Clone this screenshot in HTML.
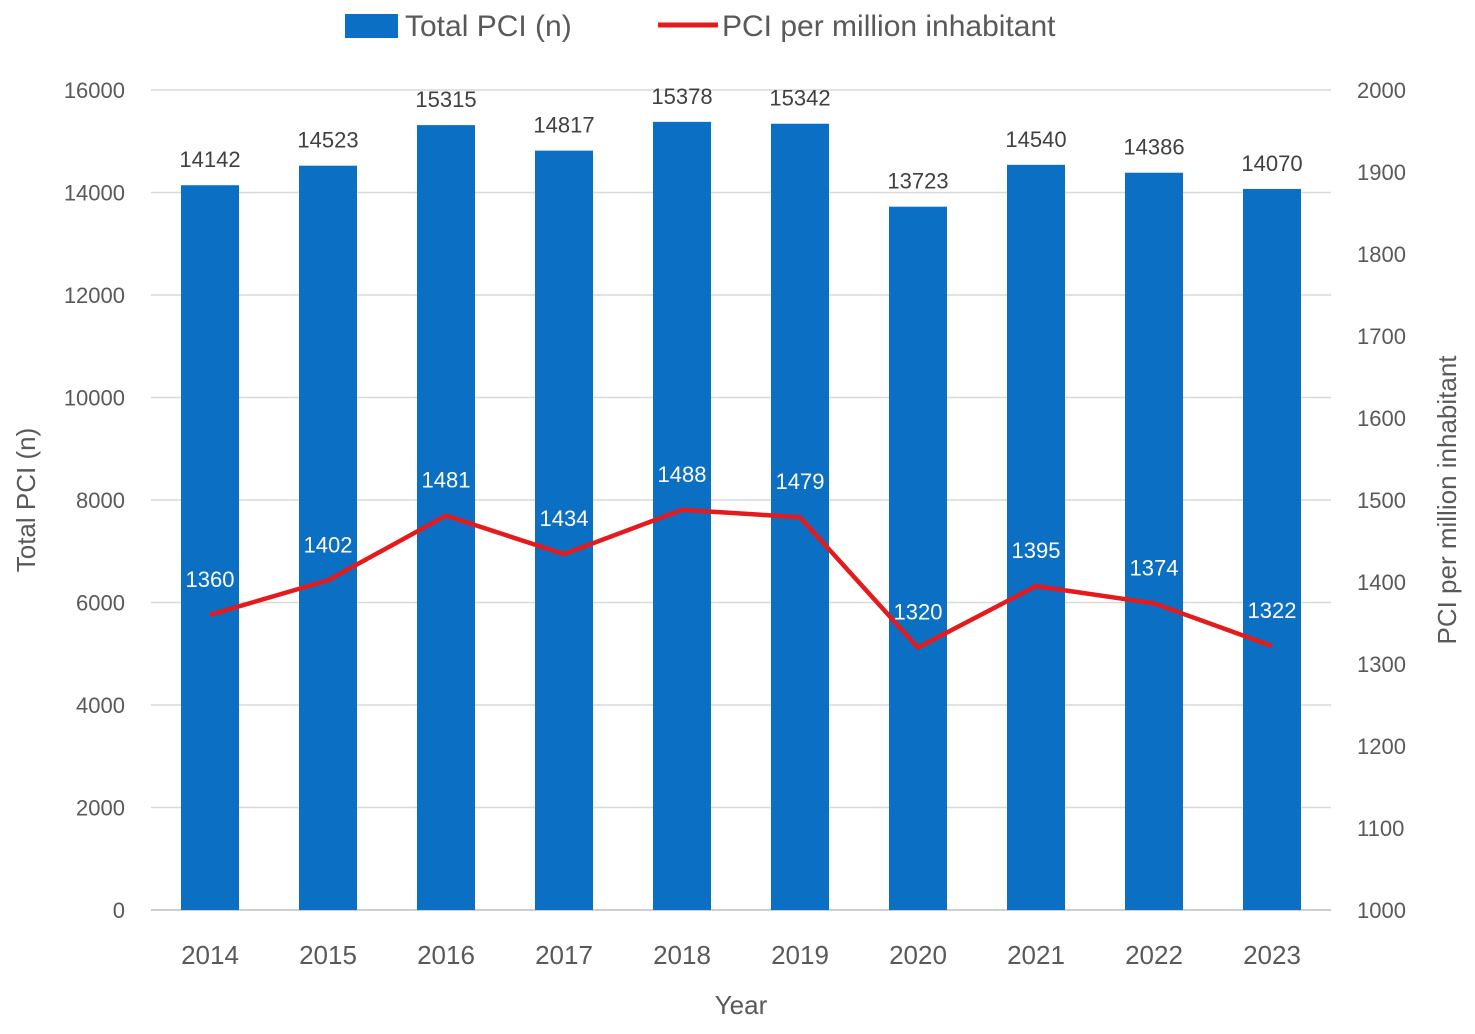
<!DOCTYPE html>
<html><head><meta charset="utf-8"><style>
body{margin:0;background:#fff;}
svg text{font-family:"Liberation Sans",sans-serif;}
</style></head><body>
<svg id="chart" width="1475" height="1029"></svg>
<script>
const years=["2014","2015","2016","2017","2018","2019","2020","2021","2022","2023"];
const totalPci=[14142,14523,15315,14817,15378,15342,13723,14540,14386,14070];
const pciPerMillion=[1360,1402,1481,1434,1488,1479,1320,1395,1374,1322];
const leftTicks=[0,2000,4000,6000,8000,10000,12000,14000,16000];
const rightTicks=[1000,1100,1200,1300,1400,1500,1600,1700,1800,1900,2000];

const NS="http://www.w3.org/2000/svg";
const svg=document.getElementById('chart');
const X0=151,PW=1180,Y0=910,YT=90;
const band=PW/years.length;
const xc=i=>X0+band*(i+0.5);
const yL=v=>Y0-(v/16000)*(Y0-YT);
const yR=v=>Y0-((v-1000)/1000)*(Y0-YT);
function mk(tag,attrs,txt){const e=document.createElementNS(NS,tag);for(const k in attrs)e.setAttribute(k,attrs[k]);if(txt!==undefined)e.textContent=txt;svg.appendChild(e);return e;}

leftTicks.forEach(t=>{
  const g=mk('line',{x1:X0,x2:X0+PW,y1:yL(t),y2:yL(t),stroke:t===0?'#bfbfbf':'#d9d9d9','stroke-width':1.5});
  
  
  const l=mk('text',{x:125,y:yL(t)+8,'text-anchor':'end','font-size':22,fill:'#595959'},t);
  
  
});
rightTicks.forEach(t=>{
  const l=mk('text',{x:1357,y:yR(t)+8,'font-size':22,fill:'#595959'},t);
  
  
});
years.forEach((y,i)=>{
  const b=mk('rect',{x:xc(i)-29,y:yL(totalPci[i]),width:58,height:Y0-yL(totalPci[i]),fill:'#0b6fc4'});
  
  
  const v=mk('text',{x:xc(i),y:yL(totalPci[i])-18,'text-anchor':'middle','font-size':22,fill:'#404040'},totalPci[i]);
  
  
  const xl=mk('text',{x:xc(i),y:964,'text-anchor':'middle','font-size':26,fill:'#595959'},y);
  
  
});
const pts=pciPerMillion.map((v,i)=>xc(i)+','+yR(v)).join(' ');
const line=mk('polyline',{points:pts,fill:'none',stroke:'#e41a1c','stroke-width':4.5,'stroke-linejoin':'round'});


pciPerMillion.forEach((v,i)=>{
  const t=mk('text',{x:xc(i),y:yR(v)-28,'text-anchor':'middle','font-size':22,fill:'#ffffff'},v);
  
  
});
const xt=mk('text',{x:741,y:1014,'text-anchor':'middle','font-size':26,fill:'#595959'},'Year');


const lt=mk('text',{x:0,y:0,'text-anchor':'middle','font-size':26,fill:'#595959',transform:'translate(35,500) rotate(-90)'},'Total PCI (n)');


const rt=mk('text',{x:0,y:0,'text-anchor':'middle','font-size':26,fill:'#595959',transform:'translate(1456,500) rotate(-90)'},'PCI per million inhabitant');


const l1=mk('rect',{x:345,y:14,width:53,height:24,fill:'#0b6fc4'});


const l1t=mk('text',{x:405,y:36,'font-size':30,fill:'#595959'},'Total PCI (n)');


const l2=mk('line',{x1:658,x2:718,y1:25,y2:25,stroke:'#e41a1c','stroke-width':5});


const l2t=mk('text',{x:722,y:36,'font-size':30,fill:'#595959'},'PCI per million inhabitant');


</script>
</body></html>
